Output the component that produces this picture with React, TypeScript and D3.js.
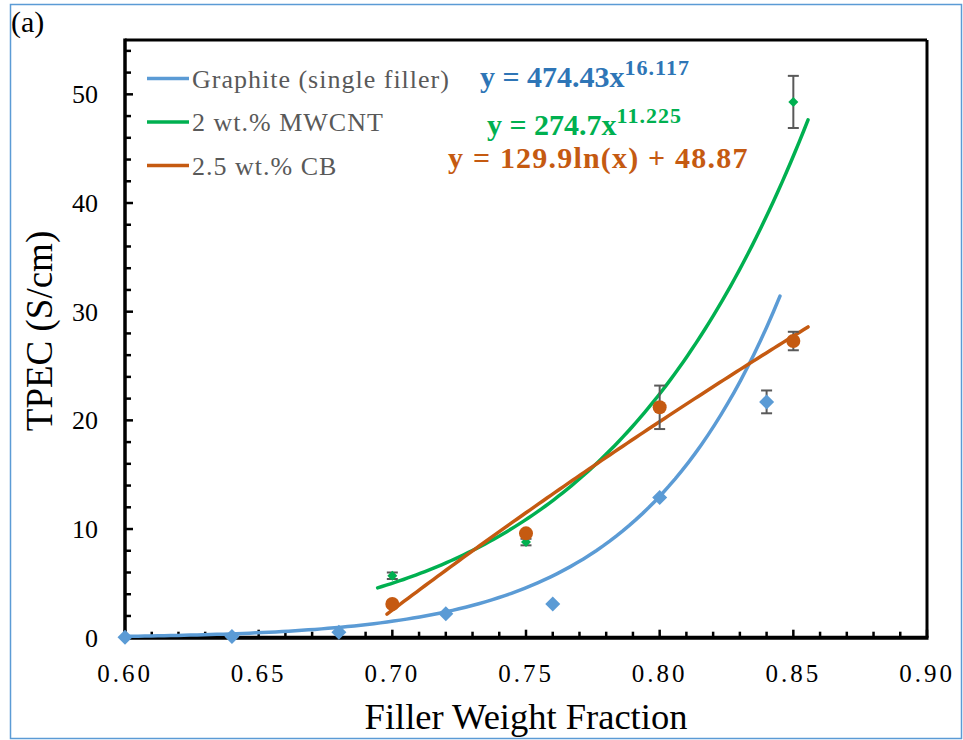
import React from "react";
import * as d3 from "d3";

const W = 963;
const H = 740;

// Data
const graphiteX = [0.6, 0.64, 0.68, 0.72, 0.76, 0.8, 0.84];
const graphiteY = [0.05, 0.1, 0.5, 2.2, 3.1, 12.9, 21.7];
const graphiteErr = [0, 0, 0, 0, 0, 0, 1.05];

const mwcntX = [0.7, 0.75, 0.8, 0.85];
const mwcntY = [5.7, 8.8, 21.3, 49.3];
const mwcntErr = [0.3, 0.3, 0, 2.4];

const cbX = [0.7, 0.75, 0.8, 0.85];
const cbY = [3.1, 9.6, 21.2, 27.3];
const cbErr = [0, 0, 2.0, 0.85];

// Trendline fits (from the chart's equations)
const graphiteFit = { a: 474.43, b: 16.117, from: 0.6, to: 0.845 };
const mwcntFit = { a: 274.7, b: 11.225, from: 0.6945, to: 0.8555 };
const cbFit = { a: 129.9, b: 48.87, from: 0.698, to: 0.8555 };

const xTicks = [0.6, 0.65, 0.7, 0.75, 0.8, 0.85, 0.9];
const yTicks = [0, 10, 20, 30, 40, 50];

const legendLabels = ["Graphite (single filler)", "2 wt.% MWCNT", "2.5 wt.% CB"];

const BLUE = "#5B9BD5";
const GREEN = "#00B050";
const ORANGE = "#C55A11";
const GRAY = "#595959";
const FONT = "'Liberation Serif', 'Times New Roman', serif";

export default function App() {
  const x = d3.scaleLinear().domain([0.6, 0.9]).range([125, 927]);
  const y = d3.scaleLinear().domain([0, 55]).range([637.7, 40]);

  const line = d3
    .line<[number, number]>()
    .x((d) => x(d[0]))
    .y((d) => y(d[1]))
    .curve(d3.curveLinear);

  const sample = (from: number, to: number, f: (v: number) => number) =>
    d3.range(0, 101).map((i) => {
      const v = from + ((to - from) * i) / 100;
      return [v, f(v)] as [number, number];
    });

  const gPath = line(
    sample(graphiteFit.from, graphiteFit.to, (v) => graphiteFit.a * Math.pow(v, graphiteFit.b))
  );
  const mPath = line(
    sample(mwcntFit.from, mwcntFit.to, (v) => mwcntFit.a * Math.pow(v, mwcntFit.b))
  );
  const cPath = line(sample(cbFit.from, cbFit.to, (v) => cbFit.a * Math.log(v) + cbFit.b));

  const xMinor = d3.range(0, 31).map((i) => 0.6 + i * 0.01);
  const yMinor = d3.range(0, 28).map((i) => i * 2);

  const errBar = (cx: number, cy: number, e: number, key: string) =>
    e > 0 ? (
      <g key={key} stroke={GRAY} strokeWidth={2}>
        <line x1={x(cx)} x2={x(cx)} y1={y(cy - e)} y2={y(cy + e)} />
        <line x1={x(cx) - 5.5} x2={x(cx) + 5.5} y1={y(cy - e)} y2={y(cy - e)} />
        <line x1={x(cx) - 5.5} x2={x(cx) + 5.5} y1={y(cy + e)} y2={y(cy + e)} />
      </g>
    ) : null;

  const diamond = (cx: number, cy: number, r: number, fill: string, key: string) => (
    <path
      key={key}
      d={`M${x(cx)},${y(cy) - r}L${x(cx) + r},${y(cy)}L${x(cx)},${y(cy) + r}L${x(cx) - r},${y(cy)}Z`}
      fill={fill}
    />
  );

  const x0 = x(0.6);
  const x1 = x(0.9);
  const y0 = y(0);
  const y1 = y(55);

  return (
    <svg
      width={W}
      height={H}
      style={{ position: "absolute", left: 0, top: 0, background: "#fff" }}
      fontFamily={FONT}
    >
      <rect x={10.5} y={4.5} width={951} height={734} fill="#fff" stroke={BLUE} strokeWidth={1.5} />
      <text x={11} y={32} fontSize={30} fill="#000">
        (a)
      </text>

      {/* ticks */}
      {xMinor.map((v, i) => {
        const major = i % 5 === 0;
        return (
          <line
            key={"xt" + i}
            x1={x(v)}
            x2={x(v)}
            y1={y0}
            y2={y0 - (major ? 8 : 6)}
            stroke="#000"
            strokeWidth={2.5}
          />
        );
      })}
      {yMinor.map((v, i) => {
        const major = v % 10 === 0;
        return (
          <line
            key={"yt" + i}
            x1={x0}
            x2={x0 + (major ? 8 : 6)}
            y1={y(v)}
            y2={y(v)}
            stroke="#000"
            strokeWidth={2.5}
          />
        );
      })}

      {/* frame */}
      <line x1={x0} x2={x1} y1={y1} y2={y1} stroke="#000" strokeWidth={3} />
      <line x1={x1} x2={x1} y1={y1} y2={y0} stroke="#000" strokeWidth={3} />
      <line x1={x0} x2={x0} y1={y1 - 1.5} y2={y0 + 2} stroke="#000" strokeWidth={3.5} />
      <line x1={x0 - 1.5} x2={x1 + 1.5} y1={y0} y2={y0} stroke="#000" strokeWidth={4} />

      {/* tick labels */}
      {xTicks.map((v, i) => (
        <text
          key={"xl" + i}
          x={x(v)}
          y={682}
          fontSize={25}
          letterSpacing={3}
          textAnchor="middle"
          fill="#000"
        >
          {v.toFixed(2)}
        </text>
      ))}
      {yTicks.map((v, i) => (
        <text key={"yl" + i} x={98} y={y(v) + 9} fontSize={26} textAnchor="end" fill="#000">
          {v}
        </text>
      ))}

      {/* axis titles */}
      <text x={526} y={729} fontSize={36.5} textAnchor="middle" fill="#000">
        Filler Weight Fraction
      </text>
      <text
        transform={`translate(52,331) rotate(-90)`}
        fontSize={37}
        textAnchor="middle"
        fill="#000"
      >
        TPEC (S/cm)
      </text>

      {/* trendlines */}
      <path d={gPath || ""} fill="none" stroke={BLUE} strokeWidth={3.5} strokeLinecap="round" />
      <path d={mPath || ""} fill="none" stroke={GREEN} strokeWidth={3.5} strokeLinecap="round" />
      <path d={cPath || ""} fill="none" stroke={ORANGE} strokeWidth={3.5} strokeLinecap="round" />

      {/* error bars */}
      {graphiteX.map((v, i) => errBar(v, graphiteY[i], graphiteErr[i], "ge" + i))}
      {mwcntX.map((v, i) => errBar(v, mwcntY[i], mwcntErr[i], "me" + i))}
      {cbX.map((v, i) => errBar(v, cbY[i], cbErr[i], "ce" + i))}

      {/* markers */}
      {graphiteX.map((v, i) => diamond(v, graphiteY[i], 7.5, BLUE, "gm" + i))}
      {mwcntX.map((v, i) => diamond(v, mwcntY[i], 5, GREEN, "mm" + i))}
      {cbX.map((v, i) => (
        <circle key={"cm" + i} cx={x(v)} cy={y(cbY[i])} r={7} fill={ORANGE} />
      ))}

      {/* legend */}
      {legendLabels.map((lab, i) => {
        const ly = 78.5 + i * 43.5;
        const col = [BLUE, GREEN, ORANGE][i];
        return (
          <g key={"lg" + i}>
            <line x1={147} x2={189} y1={ly} y2={ly} stroke={col} strokeWidth={3.5} />
            <text x={192} y={ly + 9} fontSize={26} letterSpacing={1} fill={GRAY}>
              {lab}
            </text>
          </g>
        );
      })}

      {/* equations */}
      <text x={480} y={87} fontSize={30} fontWeight="bold" fill="#2E75B6">
        y = 474.43x
        <tspan dy={-12} fontSize={22} letterSpacing={1}>
          16.117
        </tspan>
      </text>
      <text x={487} y={135} fontSize={30} fontWeight="bold" fill={GREEN}>
        y = 274.7x
        <tspan dy={-12} fontSize={22} letterSpacing={1}>
          11.225
        </tspan>
      </text>
      <text x={448} y={168} fontSize={30} fontWeight="bold" letterSpacing={1.2} fill={ORANGE}>
        y = 129.9ln(x) + 48.87
      </text>
    </svg>
  );
}
